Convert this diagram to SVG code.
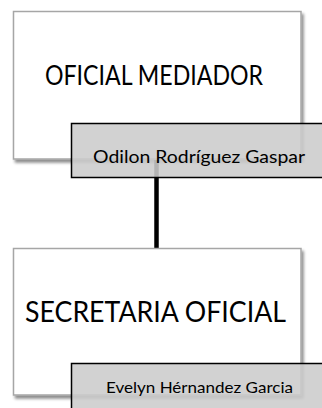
<svg xmlns="http://www.w3.org/2000/svg" width="322" height="408" viewBox="0 0 322 408">
<defs>
<filter id="sh" x="-10%" y="-10%" width="130%" height="130%">
<feGaussianBlur in="SourceAlpha" stdDeviation="1.5"/>
<feOffset dx="2" dy="3" result="b"/>
<feComponentTransfer><feFuncA type="linear" slope="0.45"/></feComponentTransfer>
<feMerge><feMergeNode/><feMergeNode in="SourceGraphic"/></feMerge>
</filter>
</defs>
<style>
.box{fill:#ffffff;stroke:#a6a6a6;stroke-width:1.5}
.lbl{fill:#cccccc;fill-opacity:0.88;stroke:#000000;stroke-width:1.5}
.t{font-family:Lato,"Liberation Sans",Arial,sans-serif;fill:#000000;text-anchor:middle}
.conn{stroke:#000000;stroke-width:4.5;fill:none}
</style>
<rect width="322" height="408" fill="#ffffff"/>
<g id="connectors">
<line class="conn" x1="156.5" y1="160" x2="156.5" y2="248"/>
</g>
<g id="node-oficial">
<rect class="box" x="13.5" y="11.5" width="287.5" height="147.5" filter="url(#sh)"/>
<text class="t" x="154" y="85" font-size="26" textLength="218" lengthAdjust="spacingAndGlyphs">OFICIAL MEDIADOR</text>
</g>
<g id="label-odilon">
<rect class="lbl" x="71.5" y="123.5" width="260" height="54"/>
<text class="t" x="199" y="163" font-size="18" textLength="212" lengthAdjust="spacingAndGlyphs">Odilon Rodríguez Gaspar</text>
</g>
<g id="node-secretaria">
<rect class="box" x="13.5" y="248.5" width="287.5" height="146.5" filter="url(#sh)"/>
<text class="t" x="155.5" y="322" font-size="29" textLength="261" lengthAdjust="spacingAndGlyphs">SECRETARIA OFICIAL</text>
</g>
<g id="label-evelyn">
<rect class="lbl" x="71.5" y="363.5" width="260" height="60"/>
<text class="t" x="199.5" y="393" font-size="15" textLength="187" lengthAdjust="spacingAndGlyphs">Evelyn Hérnandez Garcia</text>
</g>
</svg>
